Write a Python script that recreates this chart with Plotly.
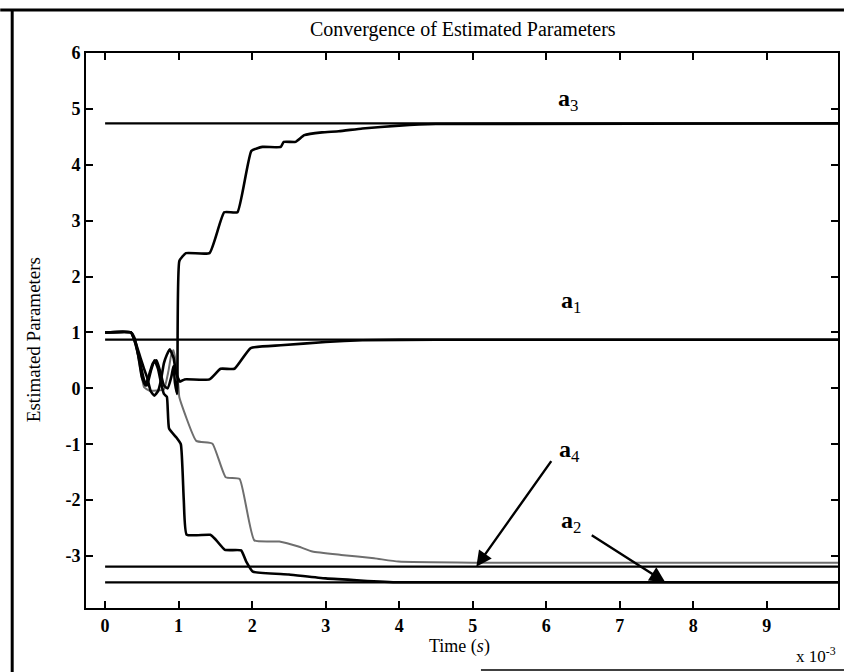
import plotly.graph_objects as go

# Time axis in milliseconds; curves sampled at the corners of each step
t_a1 = [0, 0.35, 0.42, 0.48, 0.53, 0.57, 0.62, 0.67, 0.72, 0.76, 0.80, 0.84, 0.88, 0.93, 0.97, 1.02, 1.08,
        1.42, 1.57, 1.76, 1.98, 2.39, 3.0, 3.5, 4.5, 10.0]
v_a1 = [1.0, 1.0, 0.8, 0.55, 0.35, 0.2, -0.05, -0.13, -0.05, 0.15, 0.45, 0.6, 0.7, 0.55, 0.25, 0.12, 0.16,
        0.16, 0.35, 0.35, 0.72, 0.77, 0.83, 0.86, 0.87, 0.87]

t_a2 = [0, 0.35, 0.40, 0.47, 0.53, 0.57, 0.62, 0.67, 0.72, 0.76, 0.80, 0.84, 0.87, 0.97, 1.03, 1.07, 1.11,
        1.43, 1.5, 1.63, 1.85, 1.92, 2.01, 2.5, 3.0, 4.0, 10.0]
v_a2 = [1.0, 1.0, 0.85, 0.5, 0.15, 0.05, 0.3, 0.5, 0.35, 0.1, -0.1, -0.15, -0.72, -0.88, -1.0, -2.0, -2.62,
        -2.62, -2.7, -2.89, -2.9, -3.1, -3.28, -3.33, -3.40, -3.47, -3.47]

t_a3 = [0, 0.35, 0.40, 0.45, 0.50, 0.55, 0.60, 0.65, 0.70, 0.75, 0.80, 0.85, 0.90, 0.93, 0.95, 0.98, 1.01,
        1.10, 1.42, 1.62, 1.80, 1.99, 2.14, 2.39, 2.43, 2.59, 2.71, 2.95, 3.18, 3.5, 4.0, 4.5, 10.0]
v_a3 = [1.0, 1.0, 0.9, 0.6, 0.2, 0.05, 0.25, 0.45, 0.5, 0.3, 0.05, 0.0, 0.2, 0.4, 0.1, -0.1, 2.28,
        2.42, 2.42, 3.15, 3.15, 4.25, 4.32, 4.32, 4.41, 4.41, 4.53, 4.58, 4.60, 4.65, 4.70, 4.73, 4.74]

t_a4 = [0, 0.35, 0.42, 0.50, 0.53, 0.60, 0.70, 0.80, 0.86, 0.90, 0.93, 0.97, 1.0, 1.01, 1.24, 1.46, 1.64,
        1.83, 2.03, 2.37, 2.63, 2.82, 3.21, 3.66, 3.99, 5.0, 10.0]
v_a4 = [1.0, 1.0, 0.75, 0.2, 0.02, -0.04, -0.04, -0.02, 0.3, 0.6, 0.68, 0.4, 0.0, -0.16, -0.94, -0.99, -1.59,
        -1.62, -2.72, -2.74, -2.83, -2.92, -2.98, -3.04, -3.10, -3.12, -3.12]

# True parameter values
true_names = ["a1", "a2", "a3", "a4"]
true_values = [0.87, -3.47, 4.74, -3.19]

x_ticks = [0, 1, 2, 3, 4, 5, 6, 7, 8, 9]
y_ticks = [-3, -2, -1, 0, 1, 2, 3, 4, 5, 6]

W, H = 846, 672
L, R, T, B = 86, 6, 53, 64
XR = [-0.26e-3, 9.97e-3]
YR = [-3.93, 6.0]


def px(x):
    return (x - L) / (W - L - R)


def py(y):
    return 1 - (y - T) / (H - T - B)


def ms(v):
    return [a * 1e-3 for a in v]


fig = go.Figure()

for val in true_values:
    fig.add_trace(go.Scatter(x=[0, XR[1]], y=[val, val], mode="lines",
                             line=dict(color="black", width=2.2), showlegend=False, hoverinfo="skip"))

fig.add_trace(go.Scatter(x=ms(t_a4), y=v_a4, mode="lines",
                         line=dict(color="#6e6e6e", width=2, shape="spline", smoothing=0.4),
                         showlegend=False))
for tt, vv in [(t_a1, v_a1), (t_a2, v_a2), (t_a3, v_a3)]:
    fig.add_trace(go.Scatter(x=ms(tt), y=vv, mode="lines",
                             line=dict(color="black", width=2.6, shape="spline", smoothing=0.4),
                             showlegend=False))

serif = "Liberation Serif, Times New Roman, serif"
ann = []
# parameter labels
for text, cx, cy in [("<b>a</b><sub>3</sub>", 569, 100), ("<b>a</b><sub>1</sub>", 572, 302),
                     ("<b>a</b><sub>4</sub>", 571, 451), ("<b>a</b><sub>2</sub>", 572, 522)]:
    ann.append(dict(text=text, x=px(cx), y=py(cy), xref="paper", yref="paper",
                    showarrow=False, font=dict(family=serif, size=24, color="black"),
                    xanchor="center", yanchor="middle"))
# arrows pointing at the a4 and a2 lines
ann.append(dict(x=5.05e-3, y=true_values[3], xref="x", yref="y", text="", showarrow=True,
                ax=76, ay=-107, arrowhead=2, arrowsize=1.3, arrowwidth=2.4, arrowcolor="black",
                standoff=0))
ann.append(dict(x=7.62e-3, y=true_values[1], xref="x", yref="y", text="", showarrow=True,
                ax=-75, ay=-48, arrowhead=2, arrowsize=1.3, arrowwidth=2.4, arrowcolor="black",
                standoff=0))
# title and axis titles
ann.append(dict(text="Convergence of Estimated Parameters", x=px(464), y=py(29), xref="paper", yref="paper",
                showarrow=False, font=dict(family=serif, size=20, color="black"),
                xanchor="center", yanchor="middle"))
ann.append(dict(text="Estimated Parameters", x=px(33), y=py(340), xref="paper", yref="paper",
                showarrow=False, textangle=-90, font=dict(family=serif, size=19, color="black"),
                xanchor="center", yanchor="middle"))
ann.append(dict(text="Time (<i>s</i>)", x=px(460), y=py(646), xref="paper", yref="paper",
                showarrow=False, font=dict(family=serif, size=18, color="black"),
                xanchor="center", yanchor="middle"))
ann.append(dict(text="x 10<sup>-3</sup>", x=px(818), y=py(655), xref="paper", yref="paper",
                showarrow=False, font=dict(family=serif, size=17, color="black"),
                xanchor="center", yanchor="middle"))

axis_common = dict(showline=True, linecolor="black", linewidth=2, mirror="ticks",
                   ticks="inside", ticklen=7, tickwidth=2, tickcolor="black",
                   showgrid=False, zeroline=False,
                   tickfont=dict(family=serif, size=18, color="black"))

fig.update_layout(
    width=W, height=H,
    margin=dict(l=L, r=R, t=T, b=B),
    paper_bgcolor="white", plot_bgcolor="white",
    xaxis=dict(range=XR, tickvals=[v * 1e-3 for v in x_ticks],
               ticktext=["<b>%d</b>" % v for v in x_ticks], **axis_common),
    yaxis=dict(range=YR, tickvals=y_ticks, ticktext=["<b>%d</b>" % v for v in y_ticks], **axis_common),
    annotations=ann,
    shapes=[
        dict(type="line", xref="paper", yref="paper", x0=px(0), x1=px(846), y0=py(10), y1=py(10),
             line=dict(color="black", width=3)),
        dict(type="line", xref="paper", yref="paper", x0=px(12), x1=px(12), y0=py(10), y1=py(672),
             line=dict(color="black", width=3)),
        dict(type="line", xref="paper", yref="paper", x0=px(482), x1=px(846), y0=py(670), y1=py(670),
             line=dict(color="black", width=1.5)),
    ],
)

fig.write_html("out.html")
